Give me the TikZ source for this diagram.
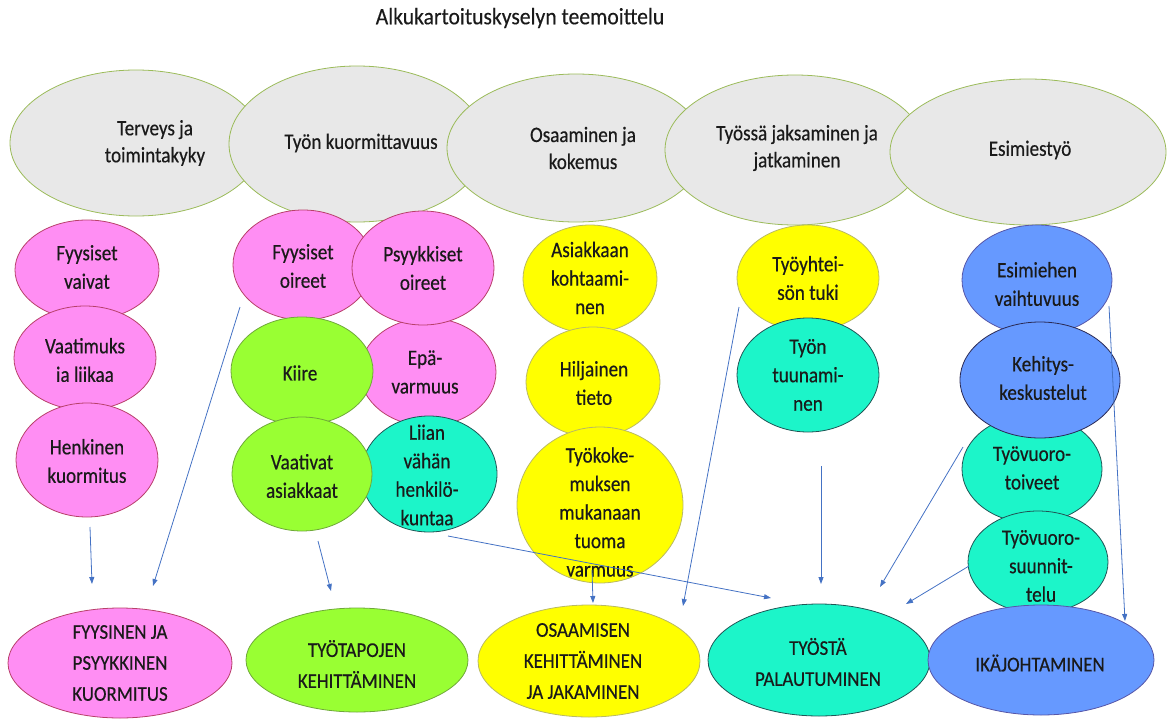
\documentclass[tikz,border=0pt]{standalone}
\usepackage{fontspec}
\setmainfont{Carlito}
\newfontfamily\nodefont[FakeStretch=0.87,FakeBold=0.4]{Carlito}
\newfontfamily\botfont[FakeStretch=0.9,FakeBold=0.4]{Carlito}
\newfontfamily\titfont[FakeStretch=0.92,FakeBold=0.3]{Carlito}
\usetikzlibrary{shapes.geometric,arrows.meta}
\definecolor{grayf}{HTML}{E8E8E8}
\definecolor{grayb}{HTML}{9BBB59}
\definecolor{pinkf}{HTML}{FF8EF3}
\definecolor{pinkb}{HTML}{B8406A}
\definecolor{greenf}{HTML}{99FF33}
\definecolor{greenb}{HTML}{6FA83A}
\definecolor{yellowf}{HTML}{FFFF00}
\definecolor{yellowb}{HTML}{B9B964}
\definecolor{cyanf}{HTML}{1CF5C9}
\definecolor{cyanb}{HTML}{1F5555}
\definecolor{bluef}{HTML}{6699FF}
\definecolor{blueb}{HTML}{5656A8}
\definecolor{bluebd}{HTML}{2A2A55}
\definecolor{arrowc}{HTML}{4472C4}
\definecolor{textc}{HTML}{1A1A1A}
\begin{document}
\begin{tikzpicture}[x=1pt,y=-1pt,
  ovl/.style={ellipse, draw, inner sep=0pt, line width=0.8pt},
  topov/.style={ovl, fill=grayf, draw=grayb},
  pinkov/.style={ovl, fill=pinkf, draw=pinkb},
  greenov/.style={ovl, fill=greenf, draw=greenb},
  yellowov/.style={ovl, fill=yellowf, draw=yellowb},
  cyanov/.style={ovl, fill=cyanf, draw=cyanb},
  blueov/.style={ovl, fill=bluef, draw=blueb},
  toptxt/.style={align=center, text=textc, inner sep=0pt, font=\nodefont\fontsize{22}{27}\selectfont},
  midtxt/.style={align=center, text=textc, inner sep=0pt, font=\nodefont\fontsize{22}{28.5}\selectfont},
  bottxt/.style={align=center, text=textc, inner sep=0pt, font=\botfont\fontsize{21}{31}\selectfont},
  titletxt/.style={text=textc, inner sep=0pt, font=\titfont\fontsize{23.5}{26}\selectfont},
  arr/.style={draw=arrowc, line width=0.8pt, -{Triangle[length=7pt,width=5pt]}}
]
\useasboundingbox (0,0) rectangle (1169,720);

\node[titletxt] (title) at (520,18) {Alkukartoituskyselyn teemoittelu};

% top ellipses
\node[topov, minimum width=252pt, minimum height=146pt] (e1) at (136,143) {};
\node[topov, minimum width=256pt, minimum height=156pt] (e2) at (357,144) {};
\node[topov, minimum width=258pt, minimum height=148pt] (e3) at (576,148) {};
\node[topov, minimum width=260pt, minimum height=150pt] (e4) at (795,150) {};
\node[topov, minimum width=276pt, minimum height=146pt] (e5) at (1028,152) {};
\node[toptxt] (e1t) at (155,143) {Terveys ja\\toimintakyky};
\node[toptxt] (e2t) at (361,143) {Työn kuormittavuus};
\node[toptxt] (e3t) at (583,148) {Osaaminen ja\\kokemus};
\node[toptxt] (e4t) at (797,148) {Työssä jaksaminen ja\\jatkaminen};
\node[toptxt] (e5t) at (1030,150) {Esimiestyö};

% column 1
\node[pinkov, minimum width=144pt, minimum height=100pt] (a1) at (87,270) {};
\node[pinkov, minimum width=142pt, minimum height=104pt] (a2) at (85,358) {};
\node[pinkov, minimum width=142pt, minimum height=114pt] (a3) at (87,460) {};
\node[midtxt] (a1t) at (87,267) {Fyysiset\\vaivat};
\node[midtxt] (a2t) at (85,360) {Vaatimuks\\ia liikaa};
\node[midtxt] (a3t) at (87,461) {Henkinen\\kuormitus};

% column 2
\node[pinkov, minimum width=140pt, minimum height=110pt] (b1) at (303,265) {};
\node[pinkov, minimum width=136pt, minimum height=108pt] (b4) at (428,372) {};
\node[pinkov, minimum width=142pt, minimum height=114pt] (b2) at (423,268) {};
\node[greenov, minimum width=142pt, minimum height=108pt] (b3) at (302,371) {};
\node[cyanov, minimum width=136pt, minimum height=116pt] (b6) at (429,474) {};
\node[greenov, minimum width=140pt, minimum height=114pt] (b5) at (302,474) {};
\node[midtxt] (b1t) at (303,266) {Fyysiset\\oireet};
\node[midtxt] (b2t) at (423,268) {Psyykkiset\\oireet};
\node[midtxt] (b3t) at (300,373) {Kiire};
\node[midtxt] (b4t) at (425,372) {Epä-\\varmuus};
\node[midtxt] (b5t) at (302,476) {Vaativat\\asiakkaat};
\node[midtxt] (b6t) at (427,475) {Liian\\vähän\\henkilö-\\kuntaa};

% column 3
\node[yellowov, minimum width=134pt, minimum height=108pt] (c1) at (590,279) {};
\node[yellowov, minimum width=134pt, minimum height=110pt] (c2) at (593,382) {};
\node[yellowov, minimum width=166pt, minimum height=156pt] (c3) at (600,505) {};
\node[midtxt] (c1t) at (590,278) {Asiakkaan\\kohtaami-\\nen};
\node[midtxt] (c2t) at (594,383) {Hiljainen\\tieto};
\node[midtxt] (c3t) at (600,512) {Työkoke-\\muksen\\mukanaan\\tuoma\\varmuus};

% column 4
\node[yellowov, minimum width=142pt, minimum height=106pt] (d1) at (808,278) {};
\node[cyanov, minimum width=142pt, minimum height=114pt] (d2) at (808,375) {};
\node[midtxt] (d1t) at (808,278) {Työyhtei-\\sön tuki};
\node[midtxt] (d2t) at (808,375) {Työn\\tuunami-\\nen};

% column 5
\node[blueov, minimum width=150pt, minimum height=110pt] (f1) at (1037,280) {};
\node[cyanov, minimum width=140pt, minimum height=108pt] (f3) at (1032,469) {};
\node[cyanov, minimum width=140pt, minimum height=102pt] (f4) at (1038,562) {};
\node[blueov, draw=bluebd, minimum width=160pt, minimum height=116pt] (f2) at (1040,380) {};
\node[midtxt] (f1t) at (1037,284) {Esimiehen\\vaihtuvuus};
\node[midtxt] (f2t) at (1043,378) {Kehitys-\\keskustelut};
\node[midtxt] (f3t) at (1032,468) {Työvuoro-\\toiveet};
\node[midtxt] (f4t) at (1041,566) {Työvuoro-\\suunnit-\\telu};

% bottom ellipses
\node[pinkov, minimum width=224pt, minimum height=110pt] (g1) at (120,663) {};
\node[greenov, minimum width=222pt, minimum height=104pt] (g2) at (357,660) {};
\node[yellowov, minimum width=222pt, minimum height=112pt] (g3) at (589,661) {};
\node[cyanov, minimum width=222pt, minimum height=112pt] (g4) at (819,660) {};
\node[blueov, minimum width=226pt, minimum height=110pt] (g5) at (1041,660) {};
\node[bottxt] (g1t) at (120,663) {FYYSINEN JA\\PSYYKKINEN\\KUORMITUS};
\node[bottxt] (g2t) at (357,664) {TYÖTAPOJEN\\KEHITTÄMINEN};
\node[bottxt] (g3t) at (583,661) {OSAAMISEN\\KEHITTÄMINEN\\JA JAKAMINEN};
\node[bottxt] (g4t) at (818,662) {TYÖSTÄ\\PALAUTUMINEN};
\node[bottxt] (g5t) at (1040,663) {IKÄJOHTAMINEN};

% arrow endpoints
\coordinate (s1) at (90,527);   \coordinate (t1) at (92,584);
\coordinate (s2) at (240,307);  \coordinate (t2) at (153,586);
\coordinate (s3) at (318,541);  \coordinate (t3) at (331,591);
\coordinate (s4) at (448,536);  \coordinate (t4) at (771,598);
\coordinate (s5) at (592,570);  \coordinate (t5) at (593,603);
\coordinate (s6) at (739,307);  \coordinate (t6) at (683,606);
\coordinate (s7) at (821,466);  \coordinate (t7) at (821,584);
\coordinate (s8) at (963,447);  \coordinate (t8) at (880,587);
\coordinate (s9) at (969,566);  \coordinate (t9) at (906,604);
\coordinate (s10) at (1109,306); \coordinate (t10) at (1125,621);

\draw[arr] (s1) -- (t1);
\draw[arr] (s2) -- (t2);
\draw[arr] (s3) -- (t3);
\draw[arr] (s4) -- (t4);
\draw[arr] (s5) -- (t5);
\draw[arr] (s6) -- (t6);
\draw[arr] (s7) -- (t7);
\draw[arr] (s8) -- (t8);
\draw[arr] (s9) -- (t9);
\draw[arr] (s10) -- (t10);
\end{tikzpicture}
\end{document}
